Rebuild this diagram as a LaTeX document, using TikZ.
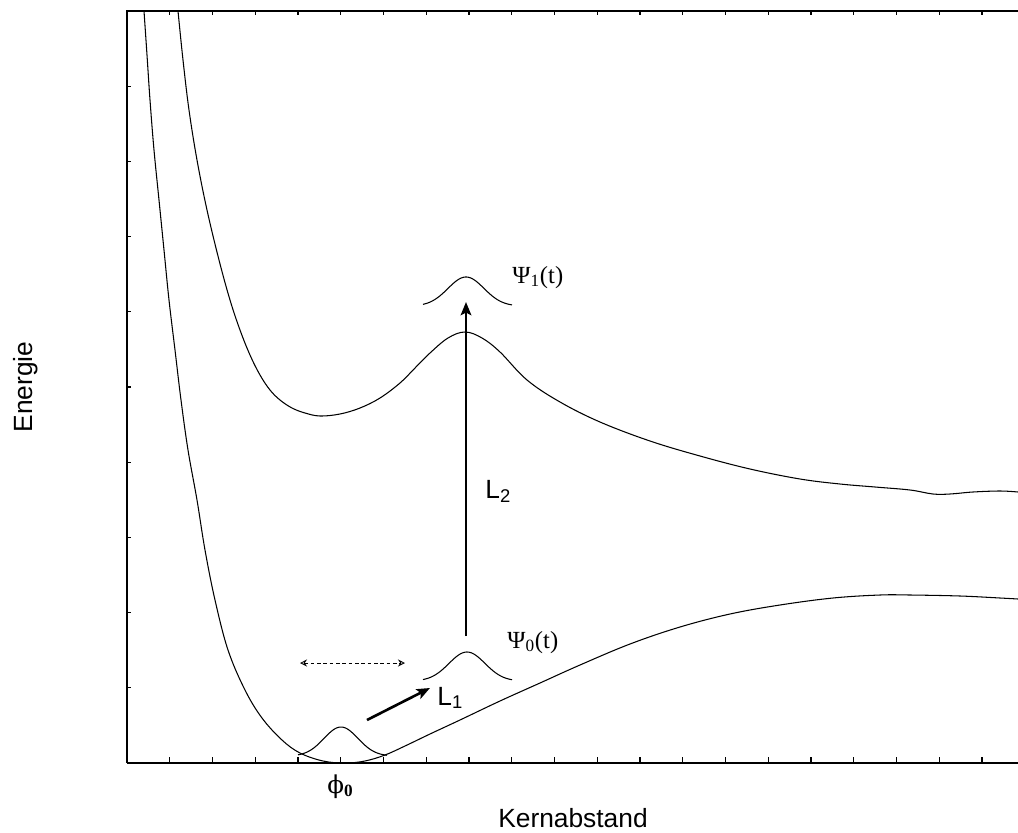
\documentclass[tikz,border=0pt]{standalone}
\usepackage{fontspec}
\setmainfont{Liberation Sans}
\newfontfamily\psifont{Liberation Serif}
\newfontfamily\phifont{DejaVu Serif}
\usetikzlibrary{arrows.meta}
\tikzset{
  frame/.style={line width=0.6pt},
  baseax/.style={line width=1.1pt},
  tck/.style={line width=0.6pt},
  pot/.style={line width=0.6pt},
  pkt/.style={line width=0.6pt},
  laser/.style={line width=1.5pt,-{Stealth[length=7.5pt,width=6pt,inset=1.5pt]}},
  osc/.style={line width=0.5pt,dash pattern=on 2pt off 1.6pt,{Stealth[open,length=4pt,width=4pt]}-{Stealth[open,length=4pt,width=4pt]}},
  axl/.style={font=\fontsize{15}{18}\selectfont,inner sep=0pt},
  lbl/.style={font=\fontsize{15}{18}\selectfont,inner sep=0pt,anchor=base west},
  wlbl/.style={font=\psifont\fontsize{14}{17}\selectfont,inner sep=0pt,anchor=base west},
}
\begin{document}
\begin{tikzpicture}[x=0.02cm,y=-0.02cm]
  \useasboundingbox (0,0) rectangle (1018,832);
  % frame
  \draw[frame] (1018,11) -- (127,11) -- (127,763);
  \draw[baseax] (127,763) -- (1018,763);
  \foreach \k in {1,...,20} {
    \draw[tck] (127+42.75*\k,763) -- (127+42.75*\k,757);
    \draw[tck] (127+42.75*\k,11) -- (127+42.75*\k,15);
  }
  \foreach \k in {1,...,9} \draw[tck] (127,763-75.2*\k) -- (131,763-75.2*\k);
  % potentials
  \draw[pot] plot[smooth,tension=0.6] coordinates {(144,11) (147,55) (150,100) (154,150)
    (159,200) (164,250) (169,300) (175,350) (181,400) (188,450) (197,500) (205,550)
    (215,600) (228,650) (245,690) (262,718) (282,740) (300,753) (323,761) (345,763)
    (365,761) (385,755) (405,746) (430,734) (460,720) (500,701) (540,683) (580,665)
    (630,644) (680,627) (730,614) (780,605) (833,598) (880,595) (910,595) (960,596)
    (1000,598) (1018,599)};
  \draw[pot] plot[smooth,tension=0.6] coordinates {(178,11) (183,60) (189,110) (197,160)
    (207,210) (219,260) (230,300) (240,330) (250,355) (260,375) (270,390) (280,400)
    (292,408) (305,413) (320,416) (340,414) (360,408) (380,398) (400,383) (415,368)
    (430,353) (448,338) (465,332) (482,338) (500,352) (527,380) (560,402) (600,422)
    (650,441) (700,456) (750,469) (800,479) (840,484) (875,487) (910,490) (933,494)
    (950,494) (973,492) (1000,491) (1018,492)};
  % wave packets
  \draw[pkt] plot[domain=-43:46,samples=60] ({341+\x},{756-29*exp(-((\x)^2)/578)});
  \draw[pkt] plot[domain=-44:45,samples=60] ({467+\x},{681-29*exp(-((\x)^2)/648)});
  \draw[pkt] plot[domain=-43:46,samples=60] ({466+\x},{306-29*exp(-((\x)^2)/648)});
  % laser pulses
  \coordinate (l1a) at (367,720);
  \coordinate (l1b) at (430,688);
  \coordinate (l2a) at (466,636);
  \coordinate (l2b) at (466,302);
  \draw[laser] (l1a) -- (l1b);
  \draw[laser] (l2a) -- (l2b);
  \coordinate (osca) at (300,663);
  \coordinate (oscb) at (405,663);
  \draw[osc] (osca) -- (oscb);
  % labels
  \node[lbl] (L1) at (437,705) {L\textsubscript{1}};
  \node[lbl] (L2) at (485,498) {L\textsubscript{2}};
  \node[wlbl] (psi1) at (512,283) {Ψ\textsubscript{1}(t)};
  \node[wlbl] (psi0) at (507,648) {Ψ\textsubscript{0}(t)};
  \node[wlbl] (phi0) at (327,793) {{\phifont ϕ}\textsubscript{\textbf{0}}};
  \node[axl,anchor=base] (xlab) at (573,827) {Kernabstand};
  \node[axl,anchor=base,rotate=90] (ylab) at (32,387) {Energie};
\end{tikzpicture}
\end{document}
